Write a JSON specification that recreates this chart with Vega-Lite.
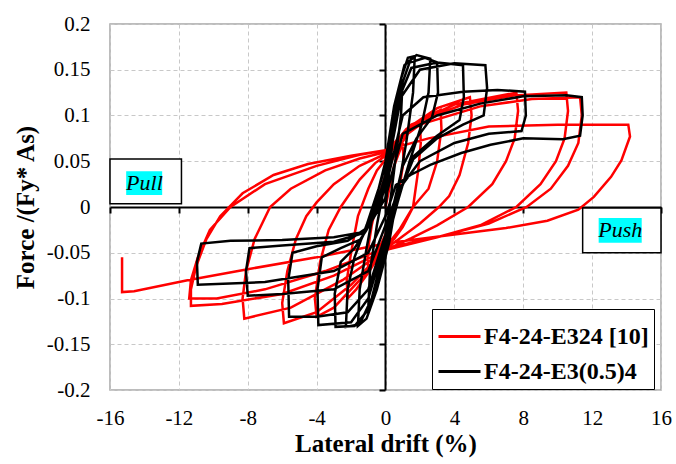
{
  "$schema": "https://vega.github.io/schema/vega-lite/v6.json",
  "width": 551,
  "height": 366,
  "autosize": "none",
  "padding": {"left": 110, "top": 24, "right": 15, "bottom": 74},
  "background": "white",
  "config": {"view": {"stroke": "#a6a6a6", "strokeWidth": 1.5}, "font": "Liberation Serif"},
  "datasets": {
    "red": [
      {"x":0,"y":0},{"x":0.5,"y":0.045},{"x":1.0,"y":0.07},{"x":1.05,"y":0.05},{"x":0.8,"y":0.02},{"x":0.5,"y":0.0},{"x":0,"y":-0.03},{"x":-0.5,"y":-0.05},{"x":-1.0,"y":-0.07},{"x":-1.05,"y":-0.05},{"x":-0.8,"y":-0.02},{"x":-0.5,"y":0.005},{"x":0,"y":0.035},
      {"x":0.6,"y":0.06},{"x":1.3,"y":0.08},{"x":2.0,"y":0.092},{"x":2.05,"y":0.07},{"x":1.9,"y":0.04},{"x":1.6,"y":0.0},{"x":1.0,"y":-0.022},{"x":0.5,"y":-0.035},{"x":0,"y":-0.042},{"x":-1.0,"y":-0.072},{"x":-1.7,"y":-0.09},{"x":-2.2,"y":-0.1},{"x":-2.25,"y":-0.08},{"x":-2.0,"y":-0.05},{"x":-1.6,"y":-0.01},{"x":-1.0,"y":0.02},{"x":-0.5,"y":0.04},{"x":0,"y":0.052},
      {"x":1.0,"y":0.078},{"x":2.2,"y":0.097},{"x":3.2,"y":0.106},{"x":3.25,"y":0.085},{"x":3.0,"y":0.05},{"x":2.5,"y":0.02},{"x":1.6,"y":0.0},{"x":0.8,"y":-0.025},{"x":0,"y":-0.044},{"x":-1.5,"y":-0.08},{"x":-3.0,"y":-0.11},{"x":-4.0,"y":-0.12},{"x":-4.1,"y":-0.1},{"x":-3.8,"y":-0.06},{"x":-3.3,"y":-0.025},{"x":-2.6,"y":0.0},{"x":-1.5,"y":0.03},{"x":-0.6,"y":0.048},{"x":0,"y":0.056},
      {"x":1.2,"y":0.085},{"x":3.0,"y":0.108},{"x":4.9,"y":0.12},{"x":5.0,"y":0.1},{"x":4.8,"y":0.07},{"x":4.3,"y":0.035},{"x":3.7,"y":0.012},{"x":3.1,"y":0.0},{"x":2.0,"y":-0.018},{"x":1.0,"y":-0.032},{"x":0,"y":-0.046},{"x":-2.0,"y":-0.085},{"x":-4.0,"y":-0.115},{"x":-5.9,"y":-0.127},{"x":-6.0,"y":-0.105},{"x":-5.7,"y":-0.07},{"x":-5.2,"y":-0.035},{"x":-4.6,"y":-0.01},{"x":-4.0,"y":0.005},{"x":-3,"y":0.025},{"x":-1.5,"y":0.045},{"x":0,"y":0.058},
      {"x":1.5,"y":0.09},{"x":4.0,"y":0.112},{"x":7.6,"y":0.125},{"x":7.7,"y":0.105},{"x":7.5,"y":0.075},{"x":7.0,"y":0.05},{"x":6.2,"y":0.025},{"x":4.8,"y":0.0},{"x":3.0,"y":-0.02},{"x":1.5,"y":-0.034},{"x":0,"y":-0.047},{"x":-2.5,"y":-0.08},{"x":-5.5,"y":-0.11},{"x":-8.2,"y":-0.122},{"x":-8.3,"y":-0.1},{"x":-8.1,"y":-0.07},{"x":-7.6,"y":-0.035},{"x":-6.7,"y":0.0},{"x":-5.5,"y":0.02},{"x":-3.5,"y":0.04},{"x":-1.5,"y":0.053},{"x":0,"y":0.06},
      {"x":1.5,"y":0.09},{"x":4.5,"y":0.112},{"x":7.5,"y":0.122},{"x":10.5,"y":0.125},{"x":10.6,"y":0.105},{"x":10.4,"y":0.075},{"x":9.9,"y":0.05},{"x":9.0,"y":0.025},{"x":7.6,"y":0.0},{"x":5.5,"y":-0.02},{"x":3.0,"y":-0.033},{"x":0,"y":-0.047},{"x":-3,"y":-0.075},{"x":-6,"y":-0.095},{"x":-9.5,"y":-0.106},{"x":-11.3,"y":-0.108},{"x":-11.3,"y":-0.09},{"x":-11.0,"y":-0.065},{"x":-10.4,"y":-0.035},{"x":-9.6,"y":-0.01},{"x":-8.3,"y":0.015},{"x":-6.5,"y":0.035},{"x":-4.5,"y":0.047},{"x":-2,"y":0.056},{"x":0,"y":0.062},
      {"x":2,"y":0.09},{"x":5.5,"y":0.11},{"x":8.5,"y":0.118},{"x":11.3,"y":0.12},{"x":11.4,"y":0.1},{"x":11.2,"y":0.07},{"x":10.6,"y":0.045},{"x":9.6,"y":0.02},{"x":8.2,"y":0.0},{"x":6,"y":-0.018},{"x":3,"y":-0.033},{"x":0,"y":-0.045},{"x":-3.5,"y":-0.07},{"x":-7,"y":-0.09},{"x":-9.8,"y":-0.1},{"x":-11.4,"y":-0.1},{"x":-11.3,"y":-0.08},{"x":-10.9,"y":-0.055},{"x":-10.2,"y":-0.025},{"x":-9,"y":0.0},{"x":-7,"y":0.025},{"x":-4,"y":0.045},{"x":-1.5,"y":0.057},{"x":0,"y":0.062},
      {"x":2.5,"y":0.075},{"x":6,"y":0.088},{"x":10,"y":0.09},{"x":12.5,"y":0.09},{"x":14.1,"y":0.09},{"x":14.2,"y":0.077},{"x":13.7,"y":0.051},{"x":13.1,"y":0.033},{"x":12.1,"y":0.011},{"x":11.2,"y":-0.003},{"x":9.4,"y":-0.015},{"x":7,"y":-0.023},{"x":4,"y":-0.03},{"x":1.5,"y":-0.036},{"x":0,"y":-0.04},{"x":-4,"y":-0.055},{"x":-8,"y":-0.068},{"x":-11.5,"y":-0.08},{"x":-14.6,"y":-0.092},{"x":-15.3,"y":-0.093},{"x":-15.3,"y":-0.055}
    ],
    "black": [
      {"x":0,"y":0},{"x":0.4,"y":0.07},{"x":0.8,"y":0.12},{"x":1.0,"y":0.14},{"x":0.9,"y":0.1},{"x":0.5,"y":0.04},{"x":0.1,"y":-0.02},{"x":-0.4,"y":-0.07},{"x":-0.8,"y":-0.1},{"x":-1.0,"y":-0.11},{"x":-0.9,"y":-0.07},{"x":-0.5,"y":-0.02},{"x":0,"y":0.03},
      {"x":0.4,"y":0.09},{"x":0.9,"y":0.14},{"x":1.3,"y":0.163},{"x":1.7,"y":0.165},{"x":1.6,"y":0.125},{"x":1.2,"y":0.07},{"x":0.7,"y":0.015},{"x":0.2,"y":-0.04},{"x":-0.5,"y":-0.09},{"x":-1.1,"y":-0.122},{"x":-1.6,"y":-0.13},{"x":-1.5,"y":-0.09},{"x":-1.1,"y":-0.045},{"x":-0.6,"y":0.005},{"x":0,"y":0.05},
      {"x":0.5,"y":0.11},{"x":1.1,"y":0.155},{"x":1.8,"y":0.166},{"x":2.6,"y":0.162},{"x":2.5,"y":0.125},{"x":2.1,"y":0.09},{"x":1.4,"y":0.05},{"x":0.7,"y":0.005},{"x":0,"y":-0.045},{"x":-0.8,"y":-0.1},{"x":-1.5,"y":-0.128},{"x":-2.3,"y":-0.131},{"x":-2.2,"y":-0.09},{"x":-1.8,"y":-0.055},{"x":-1.1,"y":-0.02},{"x":-0.4,"y":0.02},{"x":0,"y":0.045},
      {"x":0.6,"y":0.115},{"x":1.4,"y":0.158},{"x":2.3,"y":0.163},{"x":3.0,"y":0.158},{"x":3.05,"y":0.125},{"x":2.7,"y":0.098},{"x":1.8,"y":0.075},{"x":1.0,"y":0.045},{"x":0.5,"y":0.005},{"x":0,"y":-0.04},{"x":-0.9,"y":-0.11},{"x":-1.8,"y":-0.13},{"x":-2.9,"y":-0.131},{"x":-2.95,"y":-0.095},{"x":-2.6,"y":-0.06},{"x":-1.8,"y":-0.045},{"x":-1.1,"y":-0.025},{"x":-0.4,"y":0.01},{"x":0,"y":0.035},
      {"x":0.7,"y":0.115},{"x":1.5,"y":0.152},{"x":3.0,"y":0.158},{"x":4.5,"y":0.155},{"x":4.55,"y":0.12},{"x":4.3,"y":0.095},{"x":3.0,"y":0.078},{"x":1.6,"y":0.055},{"x":0.8,"y":0.015},{"x":0,"y":-0.035},{"x":-1.0,"y":-0.1},{"x":-2.0,"y":-0.126},{"x":-3.9,"y":-0.129},{"x":-3.95,"y":-0.09},{"x":-3.7,"y":-0.055},{"x":-2.6,"y":-0.045},{"x":-1.4,"y":-0.035},{"x":-0.5,"y":0.0},{"x":0,"y":0.03},
      {"x":0.9,"y":0.12},{"x":2.0,"y":0.15},{"x":4.0,"y":0.157},{"x":5.8,"y":0.155},{"x":5.9,"y":0.13},{"x":5.7,"y":0.1},{"x":4.5,"y":0.09},{"x":3.0,"y":0.075},{"x":1.6,"y":0.052},{"x":0.7,"y":0.01},{"x":0,"y":-0.03},{"x":-1.0,"y":-0.09},{"x":-2.2,"y":-0.115},{"x":-4.0,"y":-0.12},{"x":-5.6,"y":-0.12},{"x":-5.65,"y":-0.08},{"x":-5.4,"y":-0.05},{"x":-4.0,"y":-0.043},{"x":-2.2,"y":-0.037},{"x":-1.0,"y":-0.022},{"x":0,"y":0.02},
      {"x":1.0,"y":0.1},{"x":2.2,"y":0.12},{"x":4.5,"y":0.126},{"x":6.5,"y":0.128},{"x":8.1,"y":0.126},{"x":8.15,"y":0.1},{"x":7.9,"y":0.083},{"x":6.0,"y":0.08},{"x":4.0,"y":0.07},{"x":2.0,"y":0.05},{"x":0.8,"y":0.02},{"x":0,"y":-0.02},{"x":-1.0,"y":-0.07},{"x":-3.0,"y":-0.09},{"x":-6.0,"y":-0.095},{"x":-8.0,"y":-0.097},{"x":-8.1,"y":-0.07},{"x":-7.9,"y":-0.045},{"x":-6.0,"y":-0.042},{"x":-3.0,"y":-0.038},{"x":-1.2,"y":-0.028},{"x":0,"y":0.01},
      {"x":1.0,"y":0.08},{"x":3.0,"y":0.1},{"x":5.5,"y":0.113},{"x":8.0,"y":0.121},{"x":10.5,"y":0.122},{"x":11.4,"y":0.12},{"x":11.45,"y":0.1},{"x":11.3,"y":0.078},{"x":10.3,"y":0.074},{"x":8.0,"y":0.075},{"x":6.1,"y":0.068},{"x":4.4,"y":0.059},{"x":2.6,"y":0.046},{"x":1.45,"y":0.035},{"x":0.6,"y":0.024},{"x":0,"y":-0.01},{"x":-1.0,"y":-0.05},{"x":-3.0,"y":-0.07},{"x":-7.0,"y":-0.082},{"x":-10.9,"y":-0.085},{"x":-10.95,"y":-0.06},{"x":-10.7,"y":-0.04},{"x":-9.0,"y":-0.037},{"x":-6.0,"y":-0.036},{"x":-3.0,"y":-0.033},{"x":-1.5,"y":-0.028}
    ],
    "one": [{}]
  },
  "resolve": {"axis": {"x": "independent", "y": "independent"}},
  "layer": [
    {
      "data": {"name": "red"},
      "mark": {"type": "line", "strokeWidth": 2.5},
      "encoding": {
        "x": {"field": "x", "type": "quantitative",
          "scale": {"domain": [-16, 16], "nice": false, "zero": false},
          "axis": {"values": [-16,-12,-8,-4,0,4,8,12,16], "labelExpr": "'' + datum.value", "grid": true, "gridDash": [4,3], "gridColor": "#c8c8c8", "gridWidth": 1, "domain": false, "ticks": false, "tickSize": 0, "labelPadding": 17, "labelFontSize": 21, "labelFont": "Liberation Serif", "labelColor": "black", "labelFlush": false, "labelOverlap": false, "labelBound": false, "title": "Lateral drift (%)", "titleFontSize": 25, "titleFont": "Liberation Serif", "titleFontWeight": "bold", "titleColor": "black", "titlePadding": 3}},
        "y": {"field": "y", "type": "quantitative",
          "scale": {"domain": [-0.2, 0.2], "nice": false, "zero": false},
          "axis": {"values": [-0.2,-0.15,-0.1,-0.05,0,0.05,0.1,0.15,0.2], "labelExpr": "'' + datum.value", "grid": true, "gridDash": [4,3], "gridColor": "#c8c8c8", "gridWidth": 1, "domain": false, "ticks": false, "tickSize": 0, "labelPadding": 20, "labelFontSize": 21, "labelFont": "Liberation Serif", "labelColor": "black", "labelFlush": false, "labelOverlap": false, "labelBound": false, "title": "Force /(Fy* As)", "titleFontSize": 25, "titleFont": "Liberation Serif", "titleFontWeight": "bold", "titleColor": "black", "titlePadding": 8}},
        "color": {"datum": "F4-24-E324 [10]", "type": "nominal",
          "scale": {"domain": ["F4-24-E324 [10]", "F4-24-E3(0.5)4"], "range": ["#ff0000", "#000000"]},
          "legend": {"orient": "none", "legendX": 322, "legendY": 285, "title": null, "symbolType": "stroke", "symbolStrokeWidth": 3, "symbolSize": 1764, "labelFont": "Liberation Serif", "labelFontSize": 24, "labelFontWeight": "bold", "labelColor": "black", "strokeColor": "black", "fillColor": "white", "padding": 5, "rowPadding": -7, "labelOffset": 2, "labelLimit": 400}},
        "order": {"value": null}
      }
    },
    {
      "data": {"name": "black"},
      "mark": {"type": "line", "strokeWidth": 2.5},
      "encoding": {
        "x": {"field": "x", "type": "quantitative", "axis": null},
        "y": {"field": "y", "type": "quantitative", "axis": null},
        "color": {"datum": "F4-24-E3(0.5)4", "type": "nominal"},
        "order": {"value": null}
      }
    },
    {
      "data": {"name": "one"},
      "mark": {"type": "point", "opacity": 0},
      "encoding": {
        "x": {"datum": 0, "type": "quantitative", "axis": {"orient": "bottom", "offset": -183, "values": [-16,-12,-8,-4,0,4,8,12,16], "grid": false, "labels": false, "title": null, "domainColor": "black", "domainWidth": 2, "tickColor": "black", "tickWidth": 2, "tickSize": 6}},
        "y": {"datum": 0, "type": "quantitative", "axis": {"orient": "left", "offset": -275, "values": [-0.2,-0.15,-0.1,-0.05,0,0.05,0.1,0.15,0.2], "grid": false, "labels": false, "title": null, "domainColor": "black", "domainWidth": 2, "tickColor": "black", "tickWidth": 2, "tickSize": 6}}
      }
    },
    {
      "data": {"name": "one"},
      "mark": {"type": "rect", "fill": "white", "stroke": "black", "strokeWidth": 1.5},
      "encoding": {"x": {"datum": -16, "type": "quantitative", "axis": null}, "x2": {"datum": -11.85}, "y": {"datum": 0.0525, "type": "quantitative", "axis": null}, "y2": {"datum": 0.0035}}
    },
    {
      "data": {"name": "one"},
      "mark": {"type": "rect", "fill": "#00ffff"},
      "encoding": {"x": {"datum": -15.06, "type": "quantitative", "axis": null}, "x2": {"datum": -12.97}, "y": {"datum": 0.039, "type": "quantitative", "axis": null}, "y2": {"datum": 0.013}}
    },
    {
      "data": {"name": "one"},
      "mark": {"type": "text", "text": "Pull", "font": "Liberation Serif", "fontStyle": "italic", "fontSize": 22, "color": "black", "align": "center", "baseline": "middle"},
      "encoding": {"x": {"datum": -14.0, "type": "quantitative", "axis": null}, "y": {"datum": 0.026, "type": "quantitative", "axis": null}}
    },
    {
      "data": {"name": "one"},
      "mark": {"type": "rect", "fill": "white", "stroke": "black", "strokeWidth": 1.5},
      "encoding": {"x": {"datum": 11.45, "type": "quantitative", "axis": null}, "x2": {"datum": 16}, "y": {"datum": -0.001, "type": "quantitative", "axis": null}, "y2": {"datum": -0.05}}
    },
    {
      "data": {"name": "one"},
      "mark": {"type": "rect", "fill": "#00ffff"},
      "encoding": {"x": {"datum": 12.38, "type": "quantitative", "axis": null}, "x2": {"datum": 14.88}, "y": {"datum": -0.012, "type": "quantitative", "axis": null}, "y2": {"datum": -0.039}}
    },
    {
      "data": {"name": "one"},
      "mark": {"type": "text", "text": "Push", "font": "Liberation Serif", "fontStyle": "italic", "fontSize": 22, "color": "black", "align": "center", "baseline": "middle"},
      "encoding": {"x": {"datum": 13.63, "type": "quantitative", "axis": null}, "y": {"datum": -0.0255, "type": "quantitative", "axis": null}}
    }
  ]
}
